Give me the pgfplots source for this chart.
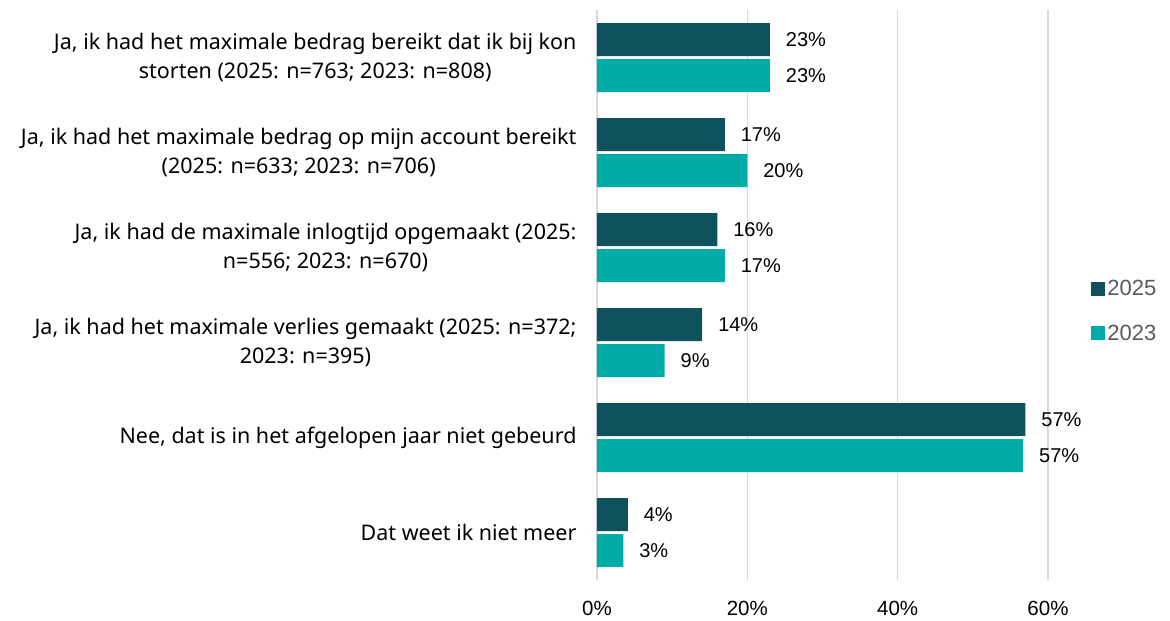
\documentclass[border=0pt]{standalone}
\usepackage{pgfplots}
\pgfplotsset{compat=1.18}
\usepackage{fontspec}
\setmainfont{Liberation Sans}
\newfontfamily\catfont{Noto Sans}
\definecolor{cA}{HTML}{0D525C}
\definecolor{cB}{HTML}{00ACA8}
\definecolor{gridc}{HTML}{D9D9D9}
\definecolor{legtext}{HTML}{595959}
\begin{document}
\begin{tikzpicture}
\useasboundingbox (-597pt,-41pt) rectangle (573pt,580pt);
\begin{axis}[
  at={(0,0)}, anchor=south west,
  scale only axis, width=451pt, height=570pt,
  xbar, bar width=33pt,
  xmin=0, xmax=60, ymin=-0.5, ymax=5.5, y dir=reverse,
  ytick={0,1,2,3,4,5},
  yticklabels={
    {Ja, ik had het maximale bedrag bereikt dat ik bij kon\\storten (2025: n=763; 2023: n=808)},
    {Ja, ik had het maximale bedrag op mijn account bereikt\\(2025: n=633; 2023: n=706)},
    {Ja, ik had de maximale inlogtijd opgemaakt (2025:\\n=556; 2023: n=670)},
    {Ja, ik had het maximale verlies gemaakt (2025: n=372;\\2023: n=395)},
    {Nee, dat is in het afgelopen jaar niet gebeurd},
    {Dat weet ik niet meer}},
  yticklabel style={align=center, font=\catfont\fontsize{21.5}{28.5}\selectfont, xshift=-17pt},
  xtick={0,20,40,60},
  xticklabels={0\%,20\%,40\%,60\%},
  xticklabel style={font=\fontsize{20.5}{24}\selectfont, yshift=-18pt},
  xmajorgrids, major grid style={gridc, line width=1.5pt},
  axis line style={draw=none},
  major tick length=0pt,
  point meta=explicit symbolic,
  nodes near coords={\pgfplotspointmeta\%},
  nodes near coords style={anchor=west, xshift=12.5pt, font=\fontsize{20}{24}\selectfont, text=black},
  legend style={at={(1.089,0.472)}, anchor=west, draw=none, fill=none,
    font=\fontsize{22}{24}\selectfont, text=legtext, row sep=24pt,
    cells={anchor=west}},
  legend image code/.code={\fill[#1] (0pt,-7pt) rectangle (14pt,7pt);},
]
\addplot[fill=cA, draw=none, bar shift=18pt] coordinates {
  (23,0) [23] (17,1) [17] (16,2) [16] (14,3) [14] (57,4) [57] (4.1,5) [4]};
\addlegendentry{2025}
\addplot[fill=cB, draw=none, bar shift=-18pt] coordinates {
  (23,0) [23] (20,1) [20] (17,2) [17] (9,3) [9] (56.7,4) [57] (3.5,5) [3]};
\addlegendentry{2023}
\end{axis}
\end{tikzpicture}
\end{document}
